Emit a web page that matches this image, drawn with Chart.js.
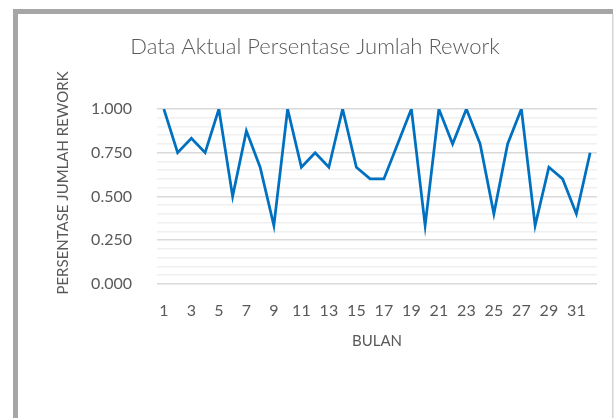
<!DOCTYPE html>
<html>
<head>
<meta charset="utf-8">
<script src="https://cdn.jsdelivr.net/npm/chart.js@4"></script>
<style>
  html, body { margin: 0; padding: 0; background: #ffffff; }
  #wrap { width: 615px; height: 418px; position: relative; }
</style>
</head>
<body>
<div id="wrap"><canvas id="reworkChart" width="615" height="418"></canvas></div>
<script>
// ============================================================
// DATA
// ============================================================

const bulanLabels = [
  "1", "2", "3", "4", "5", "6", "7", "8", "9", "10", "11", "12", "13", "14", "15", "16",
  "17", "18", "19", "20", "21", "22", "23", "24", "25", "26", "27", "28", "29", "30", "31", "32"
];

const persentaseRework = [
  1.000, 0.750, 0.833, 0.750, 1.000, 0.500, 0.875, 0.667,
  0.333, 1.000, 0.667, 0.750, 0.667, 1.000, 0.667, 0.600,
  0.600, 0.800, 1.000, 0.333, 1.000, 0.800, 1.000, 0.800,
  0.400, 0.800, 1.000, 0.333, 0.667, 0.600, 0.400, 0.750
];

const chartTitle = "Data Aktual Persentase Jumlah Rework";
const yAxisTitle = "PERSENTASE JUMLAH REWORK";
const xAxisTitle = "BULAN";

const FONT = "Lato, 'Open Sans', sans-serif";
const TEXT_COLOR = "#595959";

// ============================================================
// FRAME PLUGIN (outer border like the original picture)
// ============================================================

const framePlugin = {
  id: "frame",
  beforeDraw(chart) {
    const ctx = chart.ctx;
    ctx.save();
    ctx.fillStyle = "#ffffff";
    ctx.fillRect(0, 0, chart.width, chart.height);
    ctx.fillStyle = "#a6a6a6";
    ctx.fillRect(13, 9, 600, 5);
    ctx.fillRect(13, 9, 5, chart.height);
    ctx.fillStyle = "#d4d4d4";
    ctx.fillRect(612, 14, 1.5, chart.height);
    ctx.restore();
  }
};

// Chart title and y axis title are placed like the original
// (title centred on the frame, y title a bit above the axis middle)
const textPlugin = {
  id: "texts",
  afterDraw(chart) {
    const ctx = chart.ctx;
    ctx.save();
    ctx.fillStyle = TEXT_COLOR;
    ctx.textAlign = "center";
    ctx.textBaseline = "middle";

    ctx.font = "300 22px " + FONT;
    ctx.fillText(chartTitle, 315, 47);

    ctx.translate(63, 183);
    ctx.rotate(-Math.PI / 2);
    ctx.font = "15px " + FONT;
    ctx.fillText(yAxisTitle, 0, 0);
    ctx.restore();
  }
};

// ============================================================
// CHART
// ============================================================

const canvas = document.getElementById("reworkChart");

new Chart(canvas, {
  type: "line",
  data: {
    labels: bulanLabels,
    datasets: [
      {
        data: persentaseRework,
        borderColor: "#0070c0",
        borderWidth: 2.75,
        pointRadius: 0,
        tension: 0,
        fill: false
      }
    ]
  },
  options: {
    responsive: false,
    animation: false,
    devicePixelRatio: 1,
    layout: {
      padding: { left: 50, right: 18, top: 109, bottom: 68 }
    },
    plugins: {
      legend: { display: false },
      tooltip: { enabled: false },
      title: { display: false }
    },
    scales: {
      x: {
        type: "category",
        offset: true,
        grid: { display: false, drawTicks: false },
        border: { display: false },
        ticks: {
          autoSkip: false,
          maxRotation: 0,
          padding: 17,
          color: TEXT_COLOR,
          font: { family: FONT, size: 16 },
          callback: function (value, index) {
            return index % 2 === 0 ? bulanLabels[index] : "";
          }
        },
        title: {
          display: true,
          text: xAxisTitle,
          color: TEXT_COLOR,
          font: { family: FONT, size: 15 },
          padding: { top: -5, bottom: 0 }
        }
      },
      y: {
        min: 0,
        max: 1,
        border: { display: false },
        grid: {
          drawTicks: false,
          lineWidth: 1.5,
          color: function (context) {
            return context.index % 5 === 0 ? "#d9d9d9" : "#f0f0f0";
          }
        },
        ticks: {
          stepSize: 0.05,
          padding: 25,
          autoSkip: false,
          color: TEXT_COLOR,
          font: { family: FONT, size: 16 },
          callback: function (value, index) {
            return index % 5 === 0 ? Number(value).toFixed(3) : "";
          }
        },
        title: { display: false },
        afterFit: function (scale) {
          scale.width = 107;
        }
      }
    }
  },
  plugins: [framePlugin, textPlugin]
});
</script>
</body>
</html>
